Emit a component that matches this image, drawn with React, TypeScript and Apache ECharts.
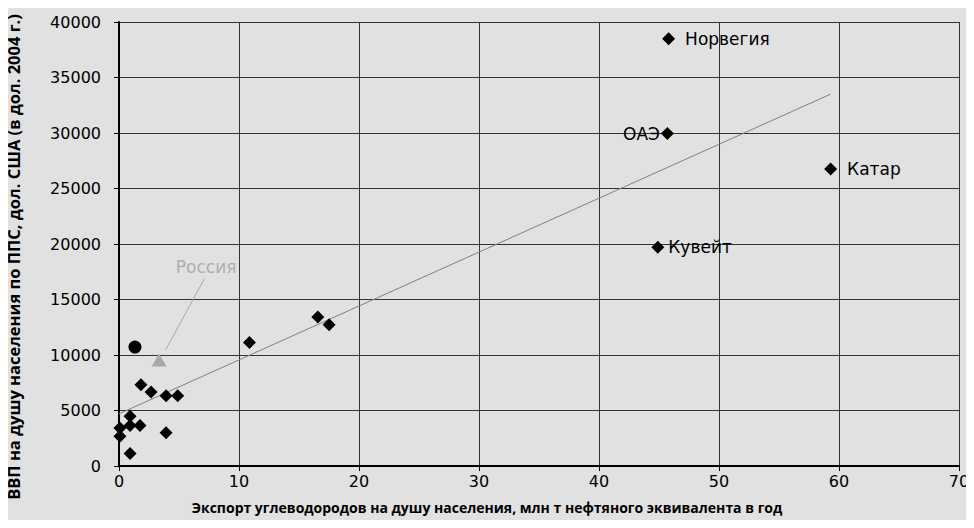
import React, { useEffect, useRef } from "react";
import * as echarts from "echarts";

// Data: hydrocarbon exports per capita (x) vs GDP per capita PPP (y)
const otherPoints: [number, number][] = [
  [1.83, 7330], [2.67, 6670], [3.92, 6340], [4.89, 6340],
  [0.92, 4480], [0.08, 3430], [0.92, 3640], [1.75, 3640],
  [0.08, 2680], [3.92, 2990], [0.92, 1120],
  [10.87, 11130], [16.57, 13420], [17.51, 12720],
];
const labeledNames = ["Норвегия", "ОАЭ", "Катар", "Кувейт"];
const labeledPoints: [number, number][] = [
  [45.8, 38500], [45.7, 29950], [59.3, 26750], [44.9, 19700],
];
const labelSides = ["right", "left", "right", "right"];
const circlePoint: [number, number][] = [[1.33, 10720]];
const russiaPoint: [number, number][] = [[3.34, 9550]];
const russiaLabel = "Россия";
const russiaLeader: [number, number][] = [[3.9, 10480], [7.11, 16860]];
const russiaLabelPos: [number, number][] = [[7.26, 17970]];
const trendLine: [number, number][] = [[0, 4700], [59.3, 33500]];
const xTicks = [0, 10, 20, 30, 40, 50, 60, 70];
const yTicks = [0, 5000, 10000, 15000, 20000, 25000, 30000, 35000, 40000];
const xTitle = "Экспорт углеводородов на душу населения, млн т нефтяного эквивалента в год";
const yTitle = "ВВП на душу населения по ППС, дол. США (в дол. 2004 г.)";

export default function App() {
  const ref = useRef<HTMLDivElement>(null);
  useEffect(() => {
    if (!ref.current) return;
    const chart = echarts.init(ref.current, null, { renderer: "svg" });
    const font = "'DejaVu Sans', sans-serif";
    const titleFont = "'Open Sans', sans-serif";
    chart.setOption({
      animation: false,
      backgroundColor: "#e1e1e1",
      textStyle: { fontFamily: font },
      grid: { left: 119, right: 15, top: 22, bottom: 62 },
      xAxis: {
        type: "value",
        min: xTicks[0],
        max: xTicks[xTicks.length - 1],
        interval: 10,
        axisLine: { show: true, onZero: false, lineStyle: { color: "#000", width: 2 } },
        axisTick: { show: true, length: 5, lineStyle: { color: "#000", width: 1 } },
        axisLabel: { color: "#000", fontSize: 16, margin: 7, fontFamily: font, formatter: (v: number) => String(v) },
        splitLine: { show: true, lineStyle: { color: "#333", width: 1 } },
      },
      yAxis: {
        type: "value",
        min: yTicks[0],
        max: yTicks[yTicks.length - 1],
        interval: 5000,
        axisLine: { show: true, onZero: false, lineStyle: { color: "#000", width: 2 } },
        axisTick: { show: true, length: 5, lineStyle: { color: "#000", width: 1 } },
        axisLabel: { color: "#000", fontSize: 16, margin: 18, fontFamily: font, formatter: (v: number) => String(v) },
        splitLine: { show: true, lineStyle: { color: "#333", width: 1 } },
      },
      graphic: [
        {
          type: "text",
          left: "center",
          top: 500,
          style: {
            text: xTitle,
            fill: "#000",
            font: `bold 14px ${titleFont}`,
          },
        },
        {
          type: "text",
          x: 13,
          y: 257,
          rotation: Math.PI / 2,
          style: {
            text: yTitle,
            fill: "#000",
            font: `bold 16.5px ${titleFont}`,
            align: "center",
            verticalAlign: "middle",
          },
        },
      ],
      series: [
        {
          type: "line",
          data: trendLine,
          symbol: "none",
          lineStyle: { color: "#808080", width: 1 },
          z: 3,
        },
        {
          type: "line",
          data: russiaLeader,
          symbol: "none",
          lineStyle: { color: "#a8a8a8", width: 1 },
          z: 3,
        },
        {
          type: "scatter",
          data: russiaLabelPos,
          symbolSize: 0,
          label: {
            show: true,
            position: "inside",
            formatter: russiaLabel,
            color: "#a0a0a0",
            fontSize: 17,
            fontFamily: font,
          },
          z: 4,
        },
        {
          type: "scatter",
          data: otherPoints,
          symbol: "diamond",
          symbolSize: 13,
          itemStyle: { color: "#000", opacity: 1 },
          z: 5,
        },
        {
          type: "scatter",
          data: labeledPoints.map((p, i) => ({
            value: p,
            label: {
              show: true,
              position: labelSides[i],
              distance: i === 1 ? 1 : i === 3 ? 4 : 10,
              formatter: labeledNames[i],
              color: "#000",
              fontSize: 17,
              fontFamily: font,
            },
          })),
          symbol: "diamond",
          symbolSize: 13,
          itemStyle: { color: "#000", opacity: 1 },
          z: 5,
        },
        {
          type: "scatter",
          data: circlePoint,
          symbol: "circle",
          symbolSize: 13,
          itemStyle: { color: "#000", opacity: 1 },
          z: 5,
        },
        {
          type: "scatter",
          data: russiaPoint,
          symbol: "triangle",
          symbolSize: [15, 13],
          itemStyle: { color: "#a8a8a8", opacity: 1 },
          z: 5,
        },
      ],
    });
    return () => chart.dispose();
  }, []);
  return <div ref={ref} style={{ width: 974, height: 528, margin: -8 }} />;
}
